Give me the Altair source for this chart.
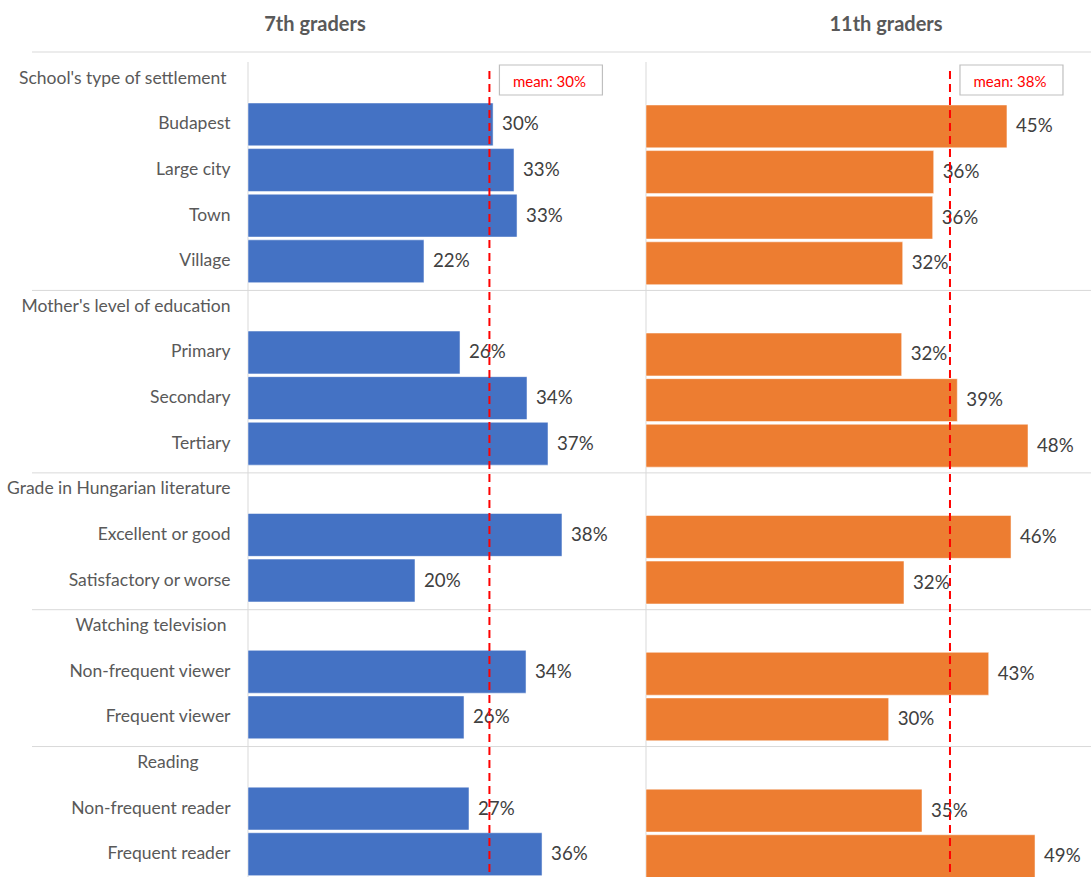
import altair as alt
import pandas as pd

rows = [
    "School's type of settlement",
    "Budapest", "Large city", "Town", "Village",
    "Mother's level of education",
    "Primary", "Secondary", "Tertiary",
    "Grade in Hungarian literature",
    "Excellent or good", "Satisfactory or worse",
    "Watching television",
    "Non-frequent viewer", "Frequent viewer",
    "Reading",
    "Non-frequent reader", "Frequent reader",
]
header_idx = [0, 5, 9, 12, 15]
grade7 = [None, 0.300, 0.3256, 0.3293, 0.2154, None, 0.2595, 0.3415, 0.3672, None,
          0.3843, 0.2044, None, 0.3403, 0.2644, None, 0.2705, 0.3599]
grade11 = [None, 0.4529, 0.361, 0.3597, 0.3221, None, 0.3208, 0.3906, 0.4793, None,
           0.458, 0.3237, None, 0.430, 0.3045, None, 0.3463, 0.4881]
panel_titles = ["7th graders", "11th graders"]
means = [0.2955, 0.3814]

df = pd.DataFrame({"row": rows, "v7": grade7, "v11": grade11})
sep_df = pd.DataFrame({"row": [rows[i] for i in header_idx[1:]]})

W1, W2, H = 392, 444, 821
GAP = 6
LEFT_EXT = 248
TOP = 56
FONT = "Lato"
GRID = "#D9D9D9"

y_scale = alt.Scale(domain=rows, paddingInner=0.06, paddingOuter=0.03)

label_pad = {
    "condition": [
        {"test": "datum.value === 'Reading'", "value": 50},
        {"test": "indexof(datum.value, 'School') === 0 || indexof(datum.value, 'Watching') === 0",
         "value": 22},
    ],
    "value": 18,
}


def one():
    return pd.DataFrame({"a": [0]})


def panel(field, color, dmax, mean, title, title_x, with_axis, rx1, rx2, dy):
    if with_axis:
        yaxis = alt.Axis(title=None, ticks=False, tickSize=0, domain=False,
                         labelPadding=label_pad, minExtent=LEFT_EXT, maxExtent=LEFT_EXT,
                         labelFont=FONT, labelFontSize=17.5, labelColor="#595959",
                         labelLimit=300)
    else:
        yaxis = None
    xs = alt.Scale(domain=[0, dmax])
    y = alt.Y("row:N", scale=y_scale, axis=yaxis, sort=rows)
    x = alt.X(f"{field}:Q", scale=xs, axis=None)

    seps = alt.Chart(sep_df).mark_rule(color=GRID, strokeWidth=1, yOffset=5).encode(
        y=alt.Y("row:N", scale=y_scale, axis=yaxis, sort=rows, bandPosition=0),
        x=alt.value(rx1), x2=alt.value(rx2))
    top_sep = alt.Chart(one()).mark_rule(color=GRID, strokeWidth=1).encode(
        y=alt.value(-4), x=alt.value(rx1), x2=alt.value(rx2))
    vline = alt.Chart(one()).mark_rule(color=GRID, strokeWidth=1).encode(
        x=alt.value(0), y=alt.value(6), y2=alt.value(H))
    bars = alt.Chart(df).mark_bar(color=color, stroke="white", strokeWidth=0.5,
                                  yOffset=dy).encode(
        x=x, y=y).transform_filter(f"isValid(datum.{field})")
    labels = alt.Chart(df).mark_text(align="left", dx=9, dy=dy, font=FONT, fontSize=18.7,
                                     color="#404040").encode(
        x=x, y=y, text=alt.Text(f"{field}:Q", format=".0%")
    ).transform_filter(f"isValid(datum.{field})")
    mdf = pd.DataFrame({"m": [mean]})
    mx = alt.X("m:Q", scale=xs, axis=None)
    mline = alt.Chart(mdf).mark_rule(color="#FF0000", strokeDash=[8, 5], strokeWidth=2).encode(
        x=mx, y=alt.value(15), y2=alt.value(H))
    mbox = alt.Chart(mdf).mark_rect(fill="white", stroke="#BFBFBF", strokeWidth=1.2,
                                    xOffset=10, x2Offset=113).encode(
        x=mx, x2="m:Q", y=alt.value(9), y2=alt.value(39))
    mtext = alt.Chart(mdf).transform_calculate(
        label="'mean: ' + format(datum.m, '.0%')"
    ).mark_text(color="#FF0000", fontSize=15, font=FONT, dx=60, align="center",
                baseline="middle").encode(x=mx, y=alt.value(26), text="label:N")
    head = alt.Chart(pd.DataFrame({"t": [title]})).mark_text(
        font=FONT, fontSize=20, fontWeight="bold", color="#595959", align="center",
        baseline="middle").encode(x=alt.value(title_x), y=alt.value(-31), text="t:N")
    bound = alt.Chart(one()).mark_rule(strokeOpacity=0, strokeWidth=0).encode(
        x=alt.value(-LEFT_EXT if with_axis else 0), x2=alt.value(0),
        y=alt.value(-TOP), y2=alt.value(-TOP))
    return alt.layer(seps, top_sep, vline, bars, labels, mline, mbox, mtext, head, bound)


left = panel("v7", "#4472C4", W1 / 817, means[0], panel_titles[0], 67, True,
             -216, W1 + GAP, 0)
left = left.properties(width=W1, height=H)
right = panel("v11", "#ED7D31", W2 / 797, means[1], panel_titles[1], 240, False,
              0, W2 + 1, 2)
right = right.properties(width=W2, height=H)

chart = (
    alt.hconcat(left, right, spacing=GAP, bounds="flush")
    .properties(padding=0)
    .configure(font=FONT)
    .configure_view(strokeWidth=0, stroke=None)
)

chart.save("out.html", embed_options={"renderer": "svg", "actions": False})
